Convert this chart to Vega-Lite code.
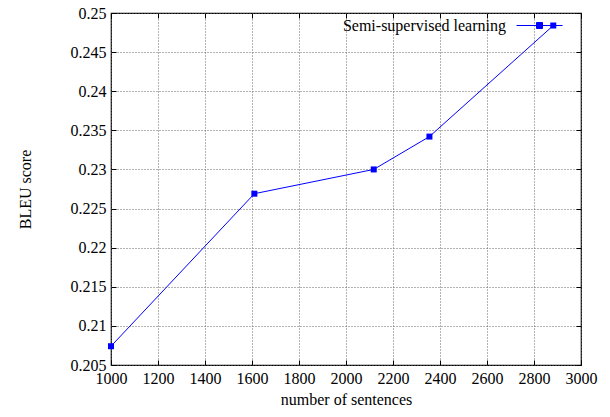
{
  "$schema": "https://vega.github.io/schema/vega-lite/v6.json",
  "width": 470,
  "height": 352,
  "autosize": "none",
  "padding": {"left": 111, "top": 13, "right": 29, "bottom": 52},
  "background": "white",
  "config": {
    "font": "Liberation Serif",
    "view": {"stroke": "black", "strokeWidth": 1.2},
    "axis": {
      "labelFont": "Liberation Serif",
      "titleFont": "Liberation Serif",
      "labelFontSize": 16,
      "titleFontSize": 16,
      "titleFontWeight": "normal",
      "labelColor": "black",
      "titleColor": "black",
      "domainColor": "black",
      "tickColor": "black",
      "tickSize": -5,
      "gridColor": "#666",
      "gridDash": [1, 2],
      "gridWidth": 1,
      "labelFlush": false,
      "labelOverlap": false
    },
    "legend": {
      "labelFont": "Liberation Serif",
      "labelFontSize": 16,
      "labelColor": "black",
      "labelLimit": 400
    }
  },
  "data": {
    "values": [
      {"sentences": 1000, "bleu": 0.2074, "series": "Semi-supervised learning"},
      {"sentences": 1610, "bleu": 0.2269, "series": "Semi-supervised learning"},
      {"sentences": 2118, "bleu": 0.2300, "series": "Semi-supervised learning"},
      {"sentences": 2355, "bleu": 0.2342, "series": "Semi-supervised learning"},
      {"sentences": 2882, "bleu": 0.2484, "series": "Semi-supervised learning"}
    ]
  },
  "encoding": {
    "color": {
      "field": "series",
      "type": "nominal",
      "scale": {"range": ["#0000ff"]},
      "legend": {
        "title": null,
        "orient": "none",
        "legendX": 405,
        "legendY": -11,
        "symbolType": "M-1,0H1M-0.13,-0.13H0.13V0.13H-0.13Z",
        "symbolSize": 2116,
        "symbolStrokeWidth": 1,
        "symbolStrokeColor": "#0000ff",
        "symbolFillColor": "#0000ff",
        "labelAlign": "right",
        "labelOffset": -57,
        "labelLimit": 400,
        "labelFont": "Liberation Serif",
        "labelFontSize": 16
      }
    }
  },
  "layer": [
    {
      "mark": {"type": "line", "strokeWidth": 1},
      "encoding": {
        "x": {
          "field": "sentences",
          "type": "quantitative",
          "scale": {"domain": [1000, 3000], "nice": false, "zero": false},
          "axis": {
            "title": "number of sentences",
            "values": [1000, 1200, 1400, 1600, 1800, 2000, 2200, 2400, 2600, 2800, 3000],
            "format": "d",
            "labelFont": "Liberation Serif",
            "labelFontSize": 16,
            "labelFlush": false,
            "labelOverlap": false,
            "labelPadding": 10,
            "titlePadding": 5,
            "grid": true,
            "domain": false
          }
        },
        "y": {
          "field": "bleu",
          "type": "quantitative",
          "scale": {"domain": [0.205, 0.25], "nice": false, "zero": false},
          "axis": {
            "title": "BLEU score",
            "values": [0.205, 0.21, 0.215, 0.22, 0.225, 0.23, 0.235, 0.24, 0.245, 0.25],
            "format": "~g",
            "labelFont": "Liberation Serif",
            "labelFontSize": 16,
            "labelFlush": false,
            "labelOverlap": false,
            "labelPadding": 10,
            "titlePadding": 37,
            "grid": true,
            "domain": false
          }
        }
      }
    },
    {
      "mark": {"type": "square", "size": 36, "opacity": 1, "filled": true},
      "encoding": {
        "x": {
          "field": "sentences",
          "type": "quantitative",
          "axis": {
            "orient": "top",
            "title": null,
            "labels": false,
            "grid": false,
            "domain": false,
            "values": [1000, 1200, 1400, 1600, 1800, 2000, 2200, 2400, 2600, 2800, 3000]
          }
        },
        "y": {
          "field": "bleu",
          "type": "quantitative",
          "axis": {
            "orient": "right",
            "title": null,
            "labels": false,
            "grid": false,
            "domain": false,
            "values": [0.205, 0.21, 0.215, 0.22, 0.225, 0.23, 0.235, 0.24, 0.245, 0.25]
          }
        }
      }
    }
  ],
  "resolve": {"axis": {"x": "independent", "y": "independent"}}
}
